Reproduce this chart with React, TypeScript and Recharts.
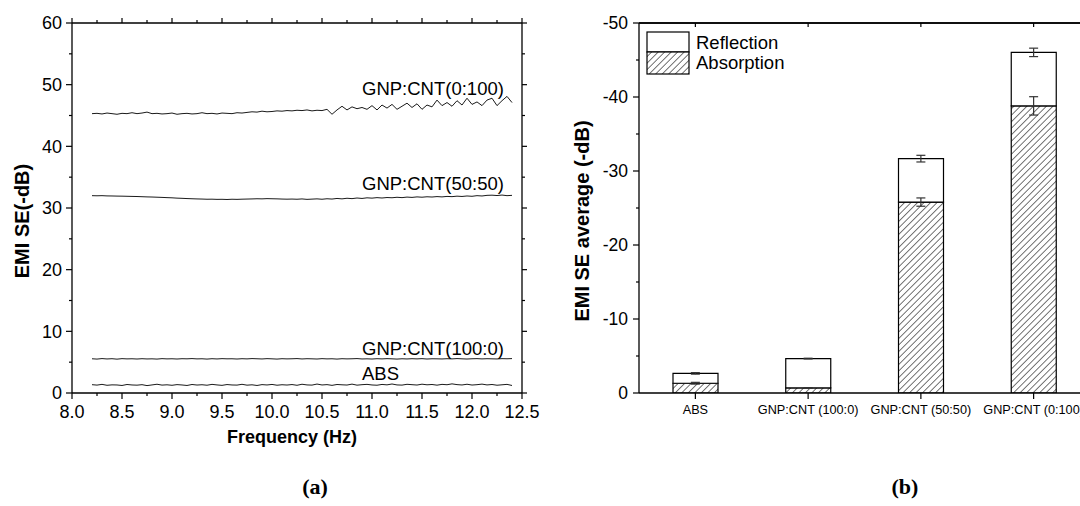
import React from 'react';
import {
  LineChart,
  Line,
  XAxis,
  YAxis,
  ReferenceDot,
  ReferenceLine,
  ComposedChart,
  Bar,
  ErrorBar,
  Legend,
} from 'recharts';

const FONT = '"Liberation Sans", Arial, Helvetica, sans-serif';
const SERIF = '"Liberation Serif", "Times New Roman", serif';

// ---------------- Panel (a): EMI SE vs frequency ----------------
const frequency = [
  8.2, 8.25, 8.3, 8.35, 8.4, 8.45, 8.5, 8.55, 8.6, 8.65,
  8.7, 8.75, 8.8, 8.85, 8.9, 8.95, 9.0, 9.05, 9.1, 9.15,
  9.2, 9.25, 9.3, 9.35, 9.4, 9.45, 9.5, 9.55, 9.6, 9.65,
  9.7, 9.75, 9.8, 9.85, 9.9, 9.95, 10.0, 10.05, 10.1, 10.15,
  10.2, 10.25, 10.3, 10.35, 10.4, 10.45, 10.5, 10.55, 10.6, 10.65,
  10.7, 10.75, 10.8, 10.85, 10.9, 10.95, 11.0, 11.05, 11.1, 11.15,
  11.2, 11.25, 11.3, 11.35, 11.4, 11.45, 11.5, 11.55, 11.6, 11.65,
  11.7, 11.75, 11.8, 11.85, 11.9, 11.95, 12.0, 12.05, 12.1, 12.15,
  12.2, 12.25, 12.3, 12.35, 12.4,
];

const seABS = [
  1.35, 1.28, 1.4, 1.25, 1.32, 1.3, 1.22, 1.38, 1.3, 1.27,
  1.35, 1.2, 1.31, 1.42, 1.28, 1.33, 1.25, 1.36, 1.3, 1.22,
  1.38, 1.29, 1.34, 1.26, 1.4, 1.31, 1.24, 1.37, 1.3, 1.28,
  1.41, 1.27, 1.33, 1.22, 1.36, 1.3, 1.39, 1.26, 1.34, 1.29,
  1.37, 1.25, 1.42, 1.31, 1.28, 1.45, 1.3, 1.36, 1.24, 1.38,
  1.33, 1.29, 1.44, 1.27, 1.35, 1.4, 1.3, 1.26, 1.39, 1.32,
  1.46, 1.31, 1.28, 1.41, 1.35, 1.29, 1.43, 1.33, 1.38, 1.27,
  1.4, 1.34, 1.48, 1.36, 1.3, 1.42, 1.29, 1.35, 1.44, 1.31,
  1.38, 1.26, 1.33, 1.4, 1.22,
];

const seGNP100_0 = [
  5.55, 5.5, 5.58, 5.52, 5.56, 5.49, 5.57, 5.53, 5.55, 5.51,
  5.56, 5.52, 5.54, 5.5, 5.57, 5.53, 5.55, 5.51, 5.56, 5.54,
  5.58, 5.53, 5.55, 5.5, 5.56, 5.52, 5.57, 5.54, 5.55, 5.51,
  5.56, 5.53, 5.58, 5.55, 5.52, 5.57, 5.54, 5.5, 5.56, 5.53,
  5.55, 5.58, 5.52, 5.56, 5.54, 5.51, 5.57, 5.53, 5.55, 5.5,
  5.56, 5.53, 5.55, 5.58, 5.52, 5.54, 5.51, 5.56, 5.53, 5.57,
  5.54, 5.5, 5.55, 5.52, 5.56, 5.53, 5.57, 5.51, 5.55, 5.54,
  5.52, 5.56, 5.53, 5.58, 5.54, 5.51, 5.55, 5.57, 5.53, 5.56,
  5.54, 5.52, 5.57, 5.55, 5.58,
];

const seGNP50_50 = [
  32.0, 31.98, 32.0, 31.96, 31.95, 31.93, 31.92, 31.9, 31.88, 31.86,
  31.83, 31.8, 31.78, 31.75, 31.72, 31.68, 31.65, 31.6, 31.57, 31.53,
  31.5, 31.47, 31.45, 31.42, 31.43, 31.4, 31.41, 31.38, 31.42, 31.4,
  31.43, 31.45, 31.47, 31.5, 31.48, 31.52, 31.5, 31.48, 31.45, 31.43,
  31.45, 31.42, 31.47, 31.4, 31.44, 31.48, 31.42, 31.5, 31.45, 31.55,
  31.48, 31.58, 31.52, 31.62, 31.55, 31.65, 31.6, 31.68, 31.62, 31.7,
  31.66, 31.74, 31.68, 31.77, 31.72, 31.8, 31.75, 31.82, 31.78, 31.85,
  31.8, 31.88, 31.84, 31.92, 31.87, 31.95, 31.9, 32.0, 31.95, 32.05,
  32.08, 32.02, 32.1, 32.0, 32.05,
];

const seGNP0_100 = [
  45.3, 45.35, 45.25, 45.4, 45.3, 45.2, 45.35, 45.3, 45.45, 45.3,
  45.4, 45.55, 45.3, 45.35, 45.25, 45.3, 45.4, 45.2, 45.3, 45.35,
  45.25, 45.3, 45.45, 45.3, 45.35, 45.25, 45.4, 45.35, 45.3, 45.45,
  45.4, 45.5, 45.6, 45.55, 45.7, 45.6, 45.65, 45.75, 45.7, 45.8,
  45.75, 45.85, 45.8, 45.9, 45.75, 45.85, 45.8, 46.0, 45.2, 45.9,
  46.5, 45.9, 46.4, 46.1, 46.3, 46.0, 46.6, 45.9, 46.7, 46.2,
  46.8, 46.0, 46.5, 47.0, 46.3, 46.9, 46.0, 46.7, 46.4, 47.5,
  46.6, 47.1, 46.5, 47.4, 46.7, 47.8, 46.8, 47.2, 46.6, 47.5,
  47.8, 46.6, 47.4, 48.1, 47.1,
];

const lineSeriesNames = ['ABS', 'GNP:CNT(100:0)', 'GNP:CNT(50:50)', 'GNP:CNT(0:100)'];

const freqTicks = [
  8.0, 8.25, 8.5, 8.75, 9.0, 9.25, 9.5, 9.75, 10.0, 10.25,
  10.5, 10.75, 11.0, 11.25, 11.5, 11.75, 12.0, 12.25, 12.5,
];
const freqMajorTicks = [8.0, 8.5, 9.0, 9.5, 10.0, 10.5, 11.0, 11.5, 12.0, 12.5];
const seTicks = [0, 5, 10, 15, 20, 25, 30, 35, 40, 45, 50, 55, 60];
const seMajorTicks = [0, 10, 20, 30, 40, 50, 60];

// ---------------- Panel (b): average EMI SE ----------------
const samples = ['ABS', 'GNP:CNT (100:0)', 'GNP:CNT (50:50)', 'GNP:CNT (0:100)'];
const absorption = [1.32, 0.68, 25.8, 38.8];
const reflection = [1.33, 3.97, 5.87, 7.23];
const absorptionErr = [0.12, 0.05, 0.56, 1.24];
const totalErr = [0.1, 0.05, 0.45, 0.57];
const avgTicks = [0, 5, 10, 15, 20, 25, 30, 35, 40, 45, 50];
const avgMajorTicks = [0, 10, 20, 30, 40, 50];
const avgTickLabels = ['0', '-10', '-20', '-30', '-40', '-50'];
const legendNames = ['Reflection', 'Absorption'];

const lineData = frequency.map((f, i) => ({
  f,
  abs: seABS[i],
  g100: seGNP100_0[i],
  g50: seGNP50_50[i],
  g0: seGNP0_100[i],
}));

const barData = samples.map((name, i) => ({
  name,
  absorption: absorption[i],
  reflection: reflection[i],
  total: absorption[i] + reflection[i],
  absErr: absorptionErr[i],
  totErr: totalErr[i],
}));

const isIn = (arr: number[], v: number) => arr.some((m) => Math.abs(m - v) < 1e-6);

// ---------------- tick renderers ----------------
const BottomNumTick = (props: any) => {
  const { x, y, payload } = props;
  const v = payload.value as number;
  const major = isIn(freqMajorTicks, v);
  return (
    <g>
      <line x1={x} y1={y} x2={x} y2={y + (major ? 6 : 3)} stroke="#000" strokeWidth={1.2} />
      {major && (
        <text x={x} y={y + 12} dy="0.71em" textAnchor="middle" fontSize={18} fontFamily={FONT} fill="#000">
          {v.toFixed(1)}
        </text>
      )}
    </g>
  );
};

const TopNumTick = (props: any) => {
  const { x, y, payload } = props;
  const major = isIn(freqMajorTicks, payload.value);
  return <line x1={x} y1={y} x2={x} y2={y - (major ? 5 : 3)} stroke="#000" strokeWidth={1.2} />;
};

const LeftSeTick = (props: any) => {
  const { x, y, payload } = props;
  const v = payload.value as number;
  const major = isIn(seMajorTicks, v);
  return (
    <g>
      <line x1={x - (major ? 6 : 3)} y1={y} x2={x} y2={y} stroke="#000" strokeWidth={1.2} />
      {major && (
        <text x={x - 10} y={y} dy="0.36em" textAnchor="end" fontSize={18} fontFamily={FONT} fill="#000">
          {String(v)}
        </text>
      )}
    </g>
  );
};

const RightSeTick = (props: any) => {
  const { x, y, payload } = props;
  const major = isIn(seMajorTicks, payload.value);
  return <line x1={x} y1={y} x2={x + (major ? 5 : 3)} y2={y} stroke="#000" strokeWidth={1.2} />;
};

const CategoryTick = (props: any) => {
  const { x, y, payload } = props;
  return (
    <g>
      <line x1={x} y1={y} x2={x} y2={y + 6} stroke="#000" strokeWidth={1.2} />
      <text x={x} y={y + 12} dy="0.71em" textAnchor="middle" fontSize={12.7} fontFamily={FONT} fill="#000">
        {payload.value}
      </text>
    </g>
  );
};

const TopCategoryTick = (props: any) => {
  const { x, y } = props;
  return <line x1={x} y1={y} x2={x} y2={y + 4} stroke="#000" strokeWidth={1.2} />;
};

const AvgTick = (props: any) => {
  const { x, y, payload } = props;
  const v = payload.value as number;
  const idx = avgMajorTicks.findIndex((m) => Math.abs(m - v) < 1e-6);
  const major = idx >= 0;
  return (
    <g>
      <line x1={x - (major ? 6 : 3)} y1={y} x2={x} y2={y} stroke="#000" strokeWidth={1.2} />
      {major && (
        <text x={x - 11} y={y} dy="0.36em" textAnchor="end" fontSize={17.5} fontFamily={FONT} fill="#000">
          {avgTickLabels[idx]}
        </text>
      )}
    </g>
  );
};

const seriesLabel = (text: string) => (p: any) => {
  const vb = p.viewBox || {};
  return (
    <text x={vb.x} y={vb.y} textAnchor="start" fontSize={18.5} fontFamily={FONT} fill="#000">
      {text}
    </text>
  );
};

const rotatedTitle = (text: string, cx: number, cy: number) => () => (
  <text
    x={cx}
    y={cy}
    transform={`rotate(-90 ${cx} ${cy})`}
    textAnchor="middle"
    dominantBaseline="central"
    fontSize={20}
    fontWeight="bold"
    fontFamily={FONT}
    fill="#000"
  >
    {text}
  </text>
);

const freqTitle = () => (
  <text
    x={292}
    y={437}
    textAnchor="middle"
    dominantBaseline="central"
    fontSize={18}
    fontWeight="bold"
    fontFamily={FONT}
    fill="#000"
  >
    Frequency (Hz)
  </text>
);

const LegendBox = () => (
  <svg width={170} height={46} style={{ display: 'block' }}>
    <rect x={1} y={1} width={42} height={20} fill="#fff" stroke="#000" strokeWidth={1.2} />
    <rect x={1} y={21} width={42} height={22} fill="url(#hatch)" stroke="#000" strokeWidth={1.2} />
    <text x={50} y={11} dominantBaseline="central" fontSize={18.5} fontFamily={FONT} fill="#000">
      {legendNames[0]}
    </text>
    <text x={50} y={31} dominantBaseline="central" fontSize={18.5} fontFamily={FONT} fill="#000">
      {legendNames[1]}
    </text>
  </svg>
);

const axisStyle = { stroke: '#000', strokeWidth: 1.3 };

export default function App() {
  return (
    <div
      style={{
        position: 'absolute',
        left: 0,
        top: 0,
        width: 1080,
        height: 506,
        overflow: 'hidden',
        background: '#fff',
        fontFamily: FONT,
      }}
    >
      <svg width={0} height={0} style={{ position: 'absolute' }}>
        <defs>
          <pattern id="hatch" patternUnits="userSpaceOnUse" width={4.6} height={4.6} patternTransform="rotate(45)">
            <rect x={0} y={0} width={4.6} height={4.6} fill="#fff" />
            <line x1={0} y1={0} x2={0} y2={4.6} stroke="#000" strokeWidth={1.1} />
          </pattern>
        </defs>
      </svg>

      {/* Panel (a) */}
      <div style={{ position: 'absolute', left: 0, top: 0 }}>
        <LineChart width={540} height={506} data={lineData} margin={{ top: 22, right: 17, bottom: 0, left: 0 }}>
          <XAxis
            xAxisId="b"
            dataKey="f"
            type="number"
            domain={[8, 12.5]}
            allowDataOverflow
            ticks={freqTicks}
            interval={0}
            height={113}
            tickSize={0}
            tickMargin={0}
            tickLine={false}
            axisLine={axisStyle}
            tick={BottomNumTick}
            label={freqTitle}
          />
          <XAxis
            xAxisId="t"
            orientation="top"
            dataKey="f"
            type="number"
            domain={[8, 12.5]}
            allowDataOverflow
            ticks={freqTicks}
            interval={0}
            height={1}
            tickSize={0}
            tickMargin={0}
            tickLine={false}
            axisLine={axisStyle}
            tick={TopNumTick}
          />
          <YAxis
            yAxisId="l"
            type="number"
            domain={[0, 60]}
            allowDataOverflow
            ticks={seTicks}
            interval={0}
            width={72}
            tickSize={0}
            tickMargin={0}
            tickLine={false}
            axisLine={axisStyle}
            tick={LeftSeTick}
            label={rotatedTitle('EMI SE(-dB)', 22, 221)}
          />
          <YAxis
            yAxisId="r"
            orientation="right"
            type="number"
            domain={[0, 60]}
            allowDataOverflow
            ticks={seTicks}
            interval={0}
            width={1}
            tickSize={0}
            tickMargin={0}
            tickLine={false}
            axisLine={axisStyle}
            tick={RightSeTick}
          />
          <Line xAxisId="b" yAxisId="l" dataKey="abs" name={lineSeriesNames[0]} stroke="#1a1a1a" strokeWidth={1} dot={false} activeDot={false} isAnimationActive={false} />
          <Line xAxisId="b" yAxisId="l" dataKey="g100" name={lineSeriesNames[1]} stroke="#1a1a1a" strokeWidth={1} dot={false} activeDot={false} isAnimationActive={false} />
          <Line xAxisId="b" yAxisId="l" dataKey="g50" name={lineSeriesNames[2]} stroke="#1a1a1a" strokeWidth={1} dot={false} activeDot={false} isAnimationActive={false} />
          <Line xAxisId="t" yAxisId="r" dataKey="g0" name={lineSeriesNames[3]} stroke="#1a1a1a" strokeWidth={1} dot={false} activeDot={false} isAnimationActive={false} />
          <ReferenceDot xAxisId="b" yAxisId="l" x={10.9} y={48.3} r={0} stroke="none" fill="none" label={seriesLabel(lineSeriesNames[3])} />
          <ReferenceDot xAxisId="b" yAxisId="l" x={10.9} y={33.0} r={0} stroke="none" fill="none" label={seriesLabel(lineSeriesNames[2])} />
          <ReferenceDot xAxisId="b" yAxisId="l" x={10.9} y={6.2} r={0} stroke="none" fill="none" label={seriesLabel(lineSeriesNames[1])} />
          <ReferenceDot xAxisId="b" yAxisId="l" x={10.9} y={2.16} r={0} stroke="none" fill="none" label={seriesLabel(lineSeriesNames[0])} />
        </LineChart>
      </div>

      {/* Panel (b) */}
      <div style={{ position: 'absolute', left: 560, top: 0 }}>
        <ComposedChart width={560} height={506} data={barData} margin={{ top: 22, right: 30, bottom: 0, left: 0 }}>
          <XAxis
            dataKey="name"
            type="category"
            height={113}
            interval={0}
            tickSize={0}
            tickMargin={0}
            tickLine={false}
            axisLine={axisStyle}
            tick={CategoryTick}
          />
          <XAxis
            xAxisId="top"
            orientation="top"
            dataKey="name"
            type="category"
            height={1}
            interval={0}
            tickSize={0}
            tickMargin={0}
            tickLine={false}
            axisLine={axisStyle}
            tick={TopCategoryTick}
          />
          <YAxis
            type="number"
            domain={[0, 50]}
            allowDataOverflow
            ticks={avgTicks}
            interval={0}
            width={79}
            tickSize={0}
            tickMargin={0}
            tickLine={false}
            axisLine={axisStyle}
            tick={AvgTick}
            label={rotatedTitle('EMI SE average (-dB)', 22, 221)}
          />
          <ReferenceLine y={50} stroke="#000" strokeWidth={1.3} />
          <Bar dataKey="absorption" name={legendNames[1]} stackId="s" barSize={45} fill="url(#hatch)" stroke="#000" strokeWidth={1.2} isAnimationActive={false} />
          <Bar dataKey="reflection" name={legendNames[0]} stackId="s" barSize={45} fill="#fff" stroke="#000" strokeWidth={1.2} isAnimationActive={false} />
          <Line xAxisId="top" dataKey="absorption" stroke="none" dot={false} activeDot={false} legendType="none" isAnimationActive={false}>
            <ErrorBar dataKey="absErr" width={4.5} stroke="#333" strokeWidth={1.2} direction="y" />
          </Line>
          <Line xAxisId="top" dataKey="total" stroke="none" dot={false} activeDot={false} legendType="none" isAnimationActive={false}>
            <ErrorBar dataKey="totErr" width={4.5} stroke="#333" strokeWidth={1.2} direction="y" />
          </Line>
          <Legend
            layout="horizontal"
            verticalAlign="middle"
            align="center"
            content={LegendBox}
            wrapperStyle={{ left: 86, top: 31, width: 170, height: 46 }}
          />
        </ComposedChart>
      </div>

      <div style={{ position: 'absolute', left: 285, top: 473, width: 60, textAlign: 'center', fontFamily: SERIF, fontWeight: 'bold', fontSize: 22, lineHeight: '28px' }}>
        (a)
      </div>
      <div style={{ position: 'absolute', left: 875, top: 473, width: 60, textAlign: 'center', fontFamily: SERIF, fontWeight: 'bold', fontSize: 22, lineHeight: '28px' }}>
        (b)
      </div>
    </div>
  );
}
